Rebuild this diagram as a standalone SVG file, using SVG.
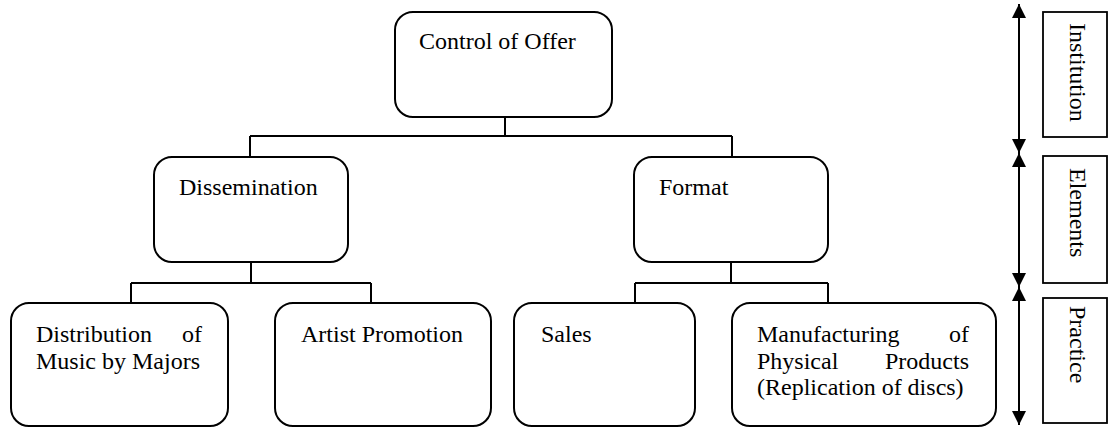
<svg xmlns="http://www.w3.org/2000/svg" width="1108" height="427" viewBox="0 0 1108 427">
<defs>
<style>
.box{fill:#fff;stroke:#000;stroke-width:2}
.lab{fill:#fff;stroke:#000;stroke-width:1.8}
.ln{fill:none;stroke:#000;stroke-width:2}
.t{font-size:24px;fill:#000}
</style>
<marker id="ah" viewBox="0 0 14 14" refX="14" refY="7" markerWidth="14" markerHeight="14" markerUnits="userSpaceOnUse" orient="auto-start-reverse">
<path d="M0,0 L14,7 L0,14 Z" fill="#000"/>
</marker>
</defs>
<rect width="1108" height="427" fill="#fff"/>
<g id="connectors">
<path class="ln" d="M505,117 V136 M250,136 H732 M250,136 V157 M732,136 V157"/>
<path class="ln" d="M251,262 V283 M131,283 H371 M131,283 V303 M371,283 V303"/>
<path class="ln" d="M731,262 V283 M635,283 H828 M635,283 V303 M828,283 V303"/>
<line class="ln" x1="1019" y1="4" x2="1019" y2="153" marker-start="url(#ah)" marker-end="url(#ah)"/>
<line class="ln" x1="1019" y1="153" x2="1019" y2="287" marker-start="url(#ah)" marker-end="url(#ah)"/>
<line class="ln" x1="1019" y1="287" x2="1019" y2="425" marker-start="url(#ah)" marker-end="url(#ah)"/>
</g>
<g font-family="Liberation Serif, Times New Roman, serif">
<g id="control">
<rect class="box" x="395" y="12" width="217" height="105" rx="18"/>
<text class="t" x="419" y="49">Control of Offer</text>
</g>
<g id="dissemination">
<rect class="box" x="154" y="157" width="194" height="105" rx="18"/>
<text class="t" x="179" y="195">Dissemination</text>
</g>
<g id="format">
<rect class="box" x="634" y="157" width="194" height="105" rx="18"/>
<text class="t" x="659" y="195">Format</text>
</g>
<g id="distribution">
<rect class="box" x="11" y="303" width="217" height="123" rx="18"/>
<text class="t" x="36" y="342">Distribution</text>
<text class="t" x="202" y="342" text-anchor="end">of</text>
<text class="t" x="36" y="369">Music by Majors</text>
</g>
<g id="artist">
<rect class="box" x="275" y="303" width="216" height="123" rx="18"/>
<text class="t" x="301" y="342">Artist Promotion</text>
</g>
<g id="sales">
<rect class="box" x="514" y="303" width="181" height="123" rx="18"/>
<text class="t" x="541" y="342">Sales</text>
</g>
<g id="manufacturing">
<rect class="box" x="732" y="303" width="264" height="123" rx="18"/>
<text class="t" x="757" y="342">Manufacturing</text>
<text class="t" x="969" y="342" text-anchor="end">of</text>
<text class="t" x="757" y="369">Physical</text>
<text class="t" x="969" y="369" text-anchor="end">Products</text>
<text class="t" x="757" y="395">(Replication of discs)</text>
</g>
<g id="institution">
<rect class="lab" x="1043" y="12" width="64" height="125"/>
<text class="t" transform="translate(1070,23) rotate(90)">Institution</text>
</g>
<g id="elements">
<rect class="lab" x="1043" y="156" width="64" height="127"/>
<text class="t" transform="translate(1070,168) rotate(90)">Elements</text>
</g>
<g id="practice">
<rect class="lab" x="1043" y="298" width="64" height="125"/>
<text class="t" transform="translate(1070,306) rotate(90)">Practice</text>
</g>
</g>
</svg>
